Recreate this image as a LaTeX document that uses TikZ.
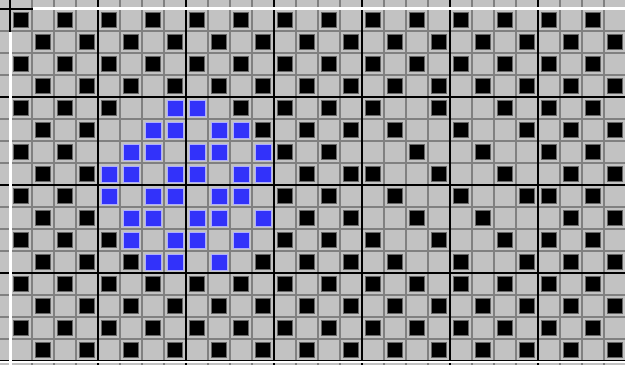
\documentclass[tikz,border=0pt]{standalone}
\definecolor{cellgrey}{RGB}{194,194,194}
\definecolor{linegrey}{RGB}{128,128,128}
\definecolor{cellblue}{RGB}{50,50,250}
\tikzset{
  gridline/.style={linegrey, line width=1.3pt},
  boxline/.style={black, line width=1.4pt},
  edgeline/.style={white, line width=1.9pt},
  blackcell/.style={rectangle, fill=black, draw=black!60, line width=0.5pt, minimum size=3.9mm, inner sep=0pt},
  bluecell/.style={rectangle, fill=cellblue, draw=cellblue!40!white, line width=0.6pt, minimum size=4mm, inner sep=0pt}
}
\begin{document}
\begin{tikzpicture}[x=5.5mm, y=-5.5mm]
	\useasboundingbox (-0.4545,-0.409) rectangle (27.955,16.182);
	\fill[cellgrey] (-0.4545,-0.409) rectangle (27.955,16.182);
	% thin grid, then the heavy lines every four cells
	\foreach \c in {0,...,27} \draw[gridline] (\c,-0.409) -- (\c,16.182);
	\foreach \r in {0,...,16} \draw[gridline] (-0.4545,\r) -- (27.955,\r);
	\foreach \c in {0,4,...,24} \draw[boxline] (\c,-0.409) -- (\c,16.182);
	\foreach \r in {0,4,...,16} \draw[boxline] (-0.4545,\r) -- (27.955,\r);
	% window edges
	\draw[edgeline] (1.05,-0.03) -- (27.955,-0.03);
	\draw[edgeline] (0.03,1.05) -- (0.03,16.182);
	\draw[edgeline] (-0.4545,16.04) -- (27.955,16.04);
	% plain rows
	\foreach \r in {0,2,12,14}
		\foreach \c in {0,2,...,26}
			\node[blackcell] (k-\r-\c) at (\c+0.5,\r+0.5) {};
	\foreach \r in {1,3,13,15}
		\foreach \c in {1,3,...,27}
			\node[blackcell] (k-\r-\c) at (\c+0.5,\r+0.5) {};
	% middle rows
	\foreach \r/\cols in {4/{0,2,4,10,12,14,16,19,22,24,26},
			5/{1,3,11,13,15,17,20,23,25,27},
			6/{0,2,12,14,18,21,24,26},
			7/{1,3,13,15,16,19,22,25,27},
			8/{0,2,12,14,17,20,23,24,26},
			9/{1,3,13,15,18,21,25,27},
			10/{0,2,4,12,14,16,19,22,24,26},
			11/{1,3,5,11,13,15,17,20,23,25,27}}
		\foreach \c in \cols
			\node[blackcell] (k-\r-\c) at (\c+0.5,\r+0.5) {};
	% blue cells
	\foreach \r/\cols in {4/{7,8}, 5/{6,7,9,10}, 6/{5,6,8,9,11}, 7/{4,5,7,8,10,11},
			8/{4,6,7,9,10}, 9/{5,6,8,9,11}, 10/{5,7,8,10}, 11/{6,7,9}}
		\foreach \c in \cols
			\node[bluecell] (u-\r-\c) at (\c+0.5,\r+0.5) {};
\end{tikzpicture}
\end{document}
